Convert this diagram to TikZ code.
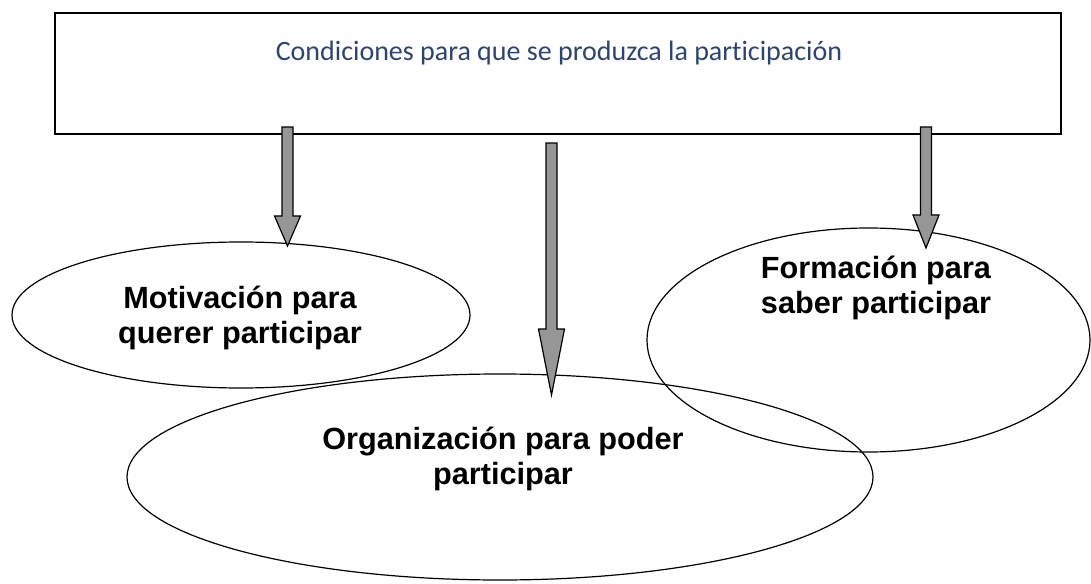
\documentclass[tikz,border=0pt]{standalone}
\usepackage{fontspec}
\setmainfont{Liberation Sans}
\newfontfamily\titlefont[Ligatures=NoCommon]{Carlito}
\definecolor{titleblue}{RGB}{44,68,116}
\definecolor{arrowgray}{RGB}{150,150,150}

% fat arrow: x, top, neck, tip
\newcommand{\fatarrow}[4]{%
  \filldraw[arrowbody] (#1-5.5,#2) -- (#1+5.5,#2) -- (#1+5.5,#3) -- (#1+13,#3)
    -- (#1,#4) -- (#1-13,#3) -- (#1-5.5,#3) -- cycle;}

\begin{document}
\begin{tikzpicture}[x=0.75pt, y=-0.75pt,
    box/.style={draw=black, line width=0.9pt},
    oval/.style={draw=black, line width=0.9pt},
    arrowbody/.style={fill=arrowgray, draw=black, line width=0.9pt, line join=miter},
    label/.style={align=center, inner sep=0pt, font=\fontsize{23}{26.25}\selectfont\bfseries}]
    \useasboundingbox (0,0) rectangle (1091,584);
    %\draw[help lines] (0,0) grid[step=50] (1091,584);

    \draw[box] (55,13) rectangle (1061,134);
    \node[inner sep=0pt, text=titleblue, font=\titlefont\fontsize{21}{25}\selectfont] (title) at (559,53)
        {Condiciones para que se produzca la participación};

    \draw[oval] (241,315) ellipse [x radius=229, y radius=73];
    \draw[oval] (500,477) ellipse [x radius=373, y radius=103];
    \draw[oval] (868.5,340) ellipse [x radius=221.5, y radius=112];

    \fatarrow{287.5}{127}{216}{246}
    \fatarrow{551.5}{143}{329}{395}
    \fatarrow{926}{127}{215}{248}

    \node[label] (motiv) at (240,318) {Motivación para\\querer participar};
    \node[label] (organ) at (503,459) {Organización para poder\\participar};
    \node[label] (forma) at (876,288) {Formación para\\saber participar};
\end{tikzpicture}
\end{document}
